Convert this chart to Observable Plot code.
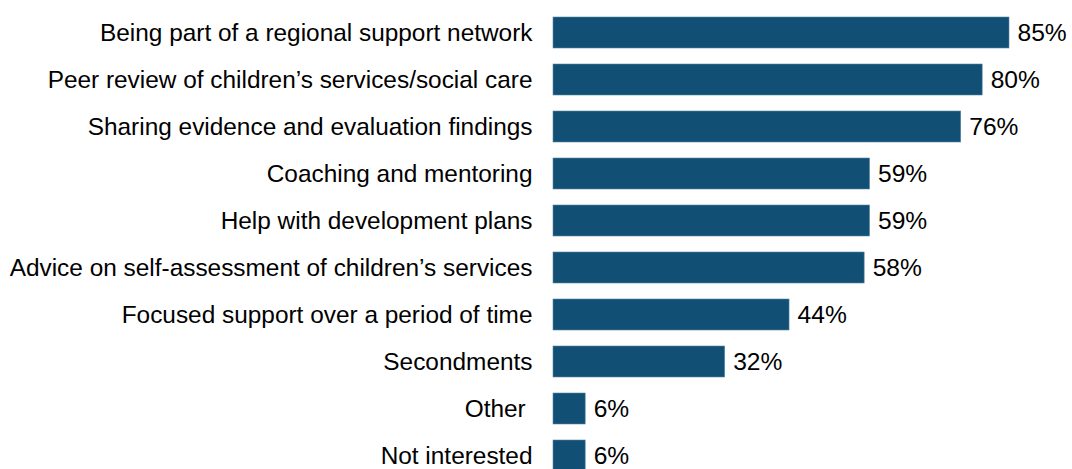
<!DOCTYPE html>
<html>
<head>
<meta charset="utf-8">
<script src="https://cdn.jsdelivr.net/npm/d3@7"></script>
<script src="https://cdn.jsdelivr.net/npm/@observablehq/plot@0.6"></script>
<style>
  html, body { margin: 0; padding: 0; background: #fff; overflow: hidden; }
  svg text { white-space: pre; }
</style>
</head>
<body>
<div id="chart"></div>
<script>
const categories = [
  "Being part of a regional support network",
  "Peer review of children’s services/social care",
  "Sharing evidence and evaluation findings",
  "Coaching and mentoring",
  "Help with development plans",
  "Advice on self-assessment of children’s services",
  "Focused support over a period of time",
  "Secondments",
  "Other ",
  "Not interested"
];
const values = [85, 80, 76, 59, 59, 58, 44, 32, 6, 6];
const valueLabels = ["85%", "80%", "76%", "59%", "59%", "58%", "44%", "32%", "6%", "6%"];

const data = categories.map((c, i) => ({category: c, value: values[i], label: valueLabels[i]}));

const chart = Plot.plot({
  width: 1072,
  height: 469,
  marginLeft: 553,
  marginRight: 63,
  marginTop: 7,
  marginBottom: 0,
  style: {fontFamily: "'Liberation Sans', Arial, sans-serif", fontSize: "24.4px", color: "#000", background: "#fff", overflow: "hidden"},
  x: {domain: [0, 85], axis: null},
  y: {domain: categories, paddingInner: 0.336, paddingOuter: 0.168, range: [7, 481.4], label: null, tickSize: 0, tickPadding: 21, fontSize: 24.4},
  marks: [
    Plot.barX(data, {x: "value", y: "category", fill: "#124F75", stroke: "#5a88a8", strokeWidth: 0.6}),
    Plot.text(data, {x: "value", y: "category", text: "label", textAnchor: "start", dx: 8, fontSize: 24.6, fill: "#000"})
  ]
});
chart.querySelectorAll("[aria-label='y-axis tick label']").forEach(g => { g.setAttribute("font-size", "24.4"); g.setAttribute("fill", "#000"); });
document.getElementById("chart").appendChild(chart);
</script>
</body>
</html>
